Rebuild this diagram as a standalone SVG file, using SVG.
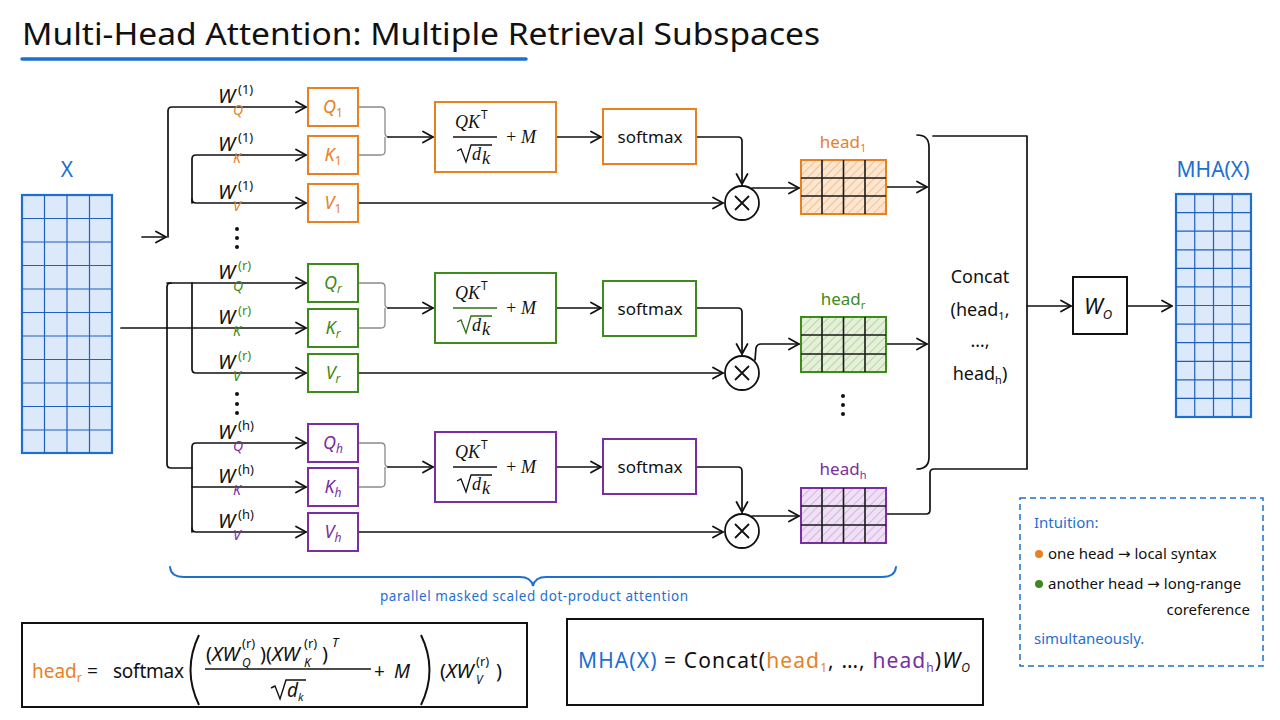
<svg xmlns="http://www.w3.org/2000/svg" width="1280" height="720" viewBox="0 0 1280 720">
<style>
text{font-family:"Noto Sans","Liberation Sans",sans-serif;fill:#111}
.ln{fill:none;stroke:#111;stroke-width:1.7;stroke-linecap:round;stroke-linejoin:round}
.arr{marker-end:url(#ah)}
.gray{fill:none;stroke:#8a8a8a;stroke-width:1.3}
.mat{fill:#dce9fb;stroke:#1f6fd1;stroke-width:2.2}
.grid{stroke:#1f5fc0;stroke-width:1.2;fill:none}
.hg{stroke:#1a1a1a;stroke-width:1.6;fill:none}
.bx{fill:#fff;stroke-width:2}
.o{fill:#e8811f}.g{fill:#3f8a1c}.p{fill:#7a2ea2}.b{fill:#1f6fd1}
.so{stroke:#e8811f}.sg{stroke:#3f8a1c}.sp{stroke:#7a2ea2}
.wl{font-size:20px;font-style:italic}
.sup{font-size:13px}
.sub{font-size:14px;font-style:italic}
.bl{font-size:18px;font-style:italic}
.m{font-family:"Liberation Serif",serif;font-style:italic;font-size:18px}
.sm{font-size:17px}
.f{font-size:19px}
.nf{font-size:20px}
.it{font-style:italic}
.ar{font-family:"DejaVu Sans",sans-serif}
</style>
<defs>
<marker id="ah" markerUnits="userSpaceOnUse" markerWidth="14" markerHeight="14" viewBox="0 0 14 14" refX="12" refY="7" orient="auto">
<path d="M2,1.5 L12,7 L2,12.5" fill="none" stroke="#111" stroke-width="1.8" stroke-linecap="round" stroke-linejoin="round"/>
</marker>
<pattern id="hO" width="6" height="6" patternUnits="userSpaceOnUse" patternTransform="rotate(45)"><rect width="6" height="6" fill="#fde6cf"/><line x1="0" y1="0" x2="0" y2="6" stroke="#eb9b52" stroke-width="1"/></pattern>
<pattern id="hG" width="6" height="6" patternUnits="userSpaceOnUse" patternTransform="rotate(45)"><rect width="6" height="6" fill="#e4f0d8"/><line x1="0" y1="0" x2="0" y2="6" stroke="#8dbd6c" stroke-width="1"/></pattern>
<pattern id="hP" width="6" height="6" patternUnits="userSpaceOnUse" patternTransform="rotate(45)"><rect width="6" height="6" fill="#efe0f6"/><line x1="0" y1="0" x2="0" y2="6" stroke="#b48ad0" stroke-width="1"/></pattern>
</defs>
<rect width="1280" height="720" fill="#fff"/>

<g id="title">
<text x="22" y="45" font-size="31" textLength="798" lengthAdjust="spacingAndGlyphs">Multi-Head Attention: Multiple Retrieval Subspaces</text>
<path d="M22,59 L526,59" stroke="#1f6fd1" stroke-width="3.5" stroke-linecap="round"/>
</g>

<g id="X">
<text x="67" y="177" font-size="21" text-anchor="middle" class="b">X</text>
<rect x="22" y="195" width="90" height="258" class="mat"/>
<path class="grid" d="M44.5,195V453M67,195V453M89.5,195V453M22,218.5H112M22,242H112M22,265.5H112M22,289H112M22,312.5H112M22,336H112M22,359.5H112M22,383H112M22,406.5H112M22,430H112"/>
</g>

<g id="connectors">
<path class="ln arr" d="M142,237 L166,237"/>
<path class="ln arr" d="M168,237 L168,111 Q168,107 172,107 L306,107"/>
<path class="ln arr" d="M192,203 L192,159 Q192,155 196,155 L306,155"/>
<path class="ln arr" d="M192,199 Q192,203 196,203 L306,203"/>
<path class="ln arr" d="M121,328 L306,328"/>
<path class="ln" d="M167,328 L167,287 Q167,283 171,283"/>
<path class="ln arr" d="M167,283 L306,283"/>
<path class="ln arr" d="M192,283 L192,369 Q192,373 196,373 L306,373"/>
<path class="ln" d="M167,328 L167,464 Q167,468 171,468 L192,468"/>
<path class="ln arr" d="M192,532 L192,447 Q192,443 196,443 L306,443"/>
<path class="ln arr" d="M192,487 L306,487"/>
<path class="ln arr" d="M192,528 Q192,532 196,532 L306,532"/>
<path class="gray" d="M358,107 L381,107 Q385,107 385,111 L385,133 Q385,137 389,137 M385,137 L385,151 Q385,155 381,155 L358,155"/>
<path class="gray" d="M358,283 L381,283 Q385,283 385,287 L385,304 Q385,308 389,308 M385,308 L385,324 Q385,328 381,328 L358,328"/>
<path class="gray" d="M358,443 L381,443 Q385,443 385,447 L385,463 Q385,467 389,467 M385,467 L385,483 Q385,487 381,487 L358,487"/>
<path class="ln arr" d="M388,137 L433,137"/>
<path class="ln arr" d="M388,308 L433,308"/>
<path class="ln arr" d="M388,467 L433,467"/>
<path class="ln arr" d="M556,137 L601,137"/>
<path class="ln arr" d="M556,308 L601,308"/>
<path class="ln arr" d="M556,467 L601,467"/>
<path class="ln arr" d="M696,137 L738,137 Q742,137 742,141 L742,184"/>
<path class="ln arr" d="M696,308 L738,308 Q742,308 742,312 L742,354"/>
<path class="ln arr" d="M696,467 L738,467 Q742,467 742,471 L742,512"/>
<path class="ln arr" d="M358,203 L723,203"/>
<path class="ln arr" d="M358,373 L723,373"/>
<path class="ln arr" d="M358,532 L723,532"/>
<path class="ln arr" d="M752,188 L799,188"/>
<path class="ln arr" d="M755,360 L756,348 Q757,344 761,344 L799,344"/>
<path class="ln arr" d="M752,516 L799,516"/>
<path class="ln arr" d="M886,187 L927,187"/>
<path class="ln arr" d="M886,344 L927,344"/>
<path class="ln" d="M886,514 L926,514 Q930,514 930,510 L930,473 Q930,469 934,469 L1027,469 L1027,136 L933,136"/>
<path class="ln" d="M917,135 Q929,135 929,147 L929,457 Q929,469 917,469"/>
<path class="ln arr" d="M1027,306 L1071,306"/>
<path class="ln arr" d="M1127,306 L1172,306"/>
</g>

<g id="mult1"><circle cx="742" cy="203" r="17" fill="#fff" stroke="#111" stroke-width="1.8"/><path d="M735,196 L749,210 M749,196 L735,210" stroke="#111" stroke-width="1.8"/></g>
<g id="multr"><circle cx="742" cy="373" r="17" fill="#fff" stroke="#111" stroke-width="1.8"/><path d="M735,366 L749,380 M749,366 L735,380" stroke="#111" stroke-width="1.8"/></g>
<g id="multh"><circle cx="742" cy="531" r="17" fill="#fff" stroke="#111" stroke-width="1.8"/><path d="M735,524 L749,538 M749,524 L735,538" stroke="#111" stroke-width="1.8"/></g>

<g id="wlabels">
<text x="218" y="103" class="wl">W</text><text x="238" y="94" class="sup" fill="#8a4a1a">(1)</text><text x="233" y="115" class="sub o">Q</text>
<text x="218" y="151" class="wl">W</text><text x="238" y="142" class="sup" fill="#8a4a1a">(1)</text><text x="233" y="163" class="sub o">K</text>
<text x="218" y="199" class="wl">W</text><text x="238" y="190" class="sup" fill="#8a4a1a">(1)</text><text x="233" y="211" class="sub o">V</text>
<text x="218" y="279" class="wl">W</text><text x="238" y="270" class="sup g">(r)</text><text x="233" y="291" class="sub g">Q</text>
<text x="218" y="324" class="wl">W</text><text x="238" y="315" class="sup g">(r)</text><text x="233" y="336" class="sub g">K</text>
<text x="218" y="369" class="wl">W</text><text x="238" y="360" class="sup g">(r)</text><text x="233" y="381" class="sub g">V</text>
<text x="218" y="439" class="wl">W</text><text x="238" y="430" class="sup" fill="#5a2a78">(h)</text><text x="233" y="451" class="sub p">Q</text>
<text x="218" y="483" class="wl">W</text><text x="238" y="474" class="sup" fill="#5a2a78">(h)</text><text x="233" y="495" class="sub p">K</text>
<text x="218" y="528" class="wl">W</text><text x="238" y="519" class="sup" fill="#5a2a78">(h)</text><text x="233" y="540" class="sub p">V</text>
<g fill="#111"><circle cx="237" cy="229" r="2"/><circle cx="237" cy="238" r="2"/><circle cx="237" cy="247" r="2"/>
<circle cx="237" cy="394" r="2"/><circle cx="237" cy="404" r="2"/><circle cx="237" cy="413" r="2"/>
<circle cx="843" cy="396" r="2"/><circle cx="843" cy="405" r="2"/><circle cx="843" cy="414" r="2"/></g>
</g>

<g id="Q1"><rect x="308" y="88" width="50" height="38" class="bx so"/><text x="333" y="113" text-anchor="middle" class="bl o">Q<tspan dy="4" font-size="12" font-style="normal">1</tspan></text></g>
<g id="K1"><rect x="308" y="136" width="50" height="38" class="bx so"/><text x="333" y="161" text-anchor="middle" class="bl o">K<tspan dy="4" font-size="12" font-style="normal">1</tspan></text></g>
<g id="V1"><rect x="308" y="184" width="50" height="38" class="bx so"/><text x="333" y="209" text-anchor="middle" class="bl o">V<tspan dy="4" font-size="12" font-style="normal">1</tspan></text></g>
<g id="Qr"><rect x="308" y="264" width="50" height="38" class="bx sg"/><text x="333" y="289" text-anchor="middle" class="bl g">Q<tspan dy="4" font-size="12">r</tspan></text></g>
<g id="Kr"><rect x="308" y="309" width="50" height="38" class="bx sg"/><text x="333" y="334" text-anchor="middle" class="bl g">K<tspan dy="4" font-size="12">r</tspan></text></g>
<g id="Vr"><rect x="308" y="354" width="50" height="38" class="bx sg"/><text x="333" y="379" text-anchor="middle" class="bl g">V<tspan dy="4" font-size="12">r</tspan></text></g>
<g id="Qh"><rect x="308" y="424" width="50" height="38" class="bx sp"/><text x="333" y="449" text-anchor="middle" class="bl p">Q<tspan dy="4" font-size="12">h</tspan></text></g>
<g id="Kh"><rect x="308" y="468" width="50" height="38" class="bx sp"/><text x="333" y="493" text-anchor="middle" class="bl p">K<tspan dy="4" font-size="12">h</tspan></text></g>
<g id="Vh"><rect x="308" y="513" width="50" height="38" class="bx sp"/><text x="333" y="538" text-anchor="middle" class="bl p">V<tspan dy="4" font-size="12">h</tspan></text></g>

<g id="QK1">
<rect x="435" y="102" width="121" height="70" class="bx so"/>
<text x="455" y="128" class="m">QK</text><text x="481" y="119" font-size="12" font-family="Liberation Serif,serif">T</text>
<path d="M453,137 L497,137" stroke="#111" stroke-width="1.3"/>
<path d="M457,151 L461,149 L466,162 L471,145 L492,145" fill="none" stroke="#111" stroke-width="1.3"/>
<text x="472" y="160" class="m">d</text><text x="482" y="164" class="m" font-size="11">k</text>
<text x="505" y="143" class="m" font-style="normal">+</text><text x="521" y="143" class="m">M</text>
</g>
<g id="QKr">
<rect x="435" y="273" width="121" height="70" class="bx sg"/>
<text x="455" y="299" class="m" fill="#2f6e14">QK</text><text x="481" y="290" font-size="12" font-family="Liberation Serif,serif" fill="#2f6e14">T</text>
<path d="M453,308 L497,308" stroke="#2f6e14" stroke-width="1.3"/>
<path d="M457,322 L461,320 L466,333 L471,316 L492,316" fill="none" stroke="#2f6e14" stroke-width="1.3"/>
<text x="472" y="331" class="m" fill="#2f6e14">d</text><text x="482" y="335" class="m" font-size="11" fill="#2f6e14">k</text>
<text x="505" y="314" class="m" font-style="normal" fill="#2f6e14">+</text><text x="521" y="314" class="m" fill="#2f6e14">M</text>
</g>
<g id="QKh">
<rect x="435" y="432" width="121" height="70" class="bx sp"/>
<text x="455" y="458" class="m">QK</text><text x="481" y="449" font-size="12" font-family="Liberation Serif,serif">T</text>
<path d="M453,467 L497,467" stroke="#111" stroke-width="1.3"/>
<path d="M457,481 L461,479 L466,492 L471,475 L492,475" fill="none" stroke="#111" stroke-width="1.3"/>
<text x="472" y="490" class="m">d</text><text x="482" y="494" class="m" font-size="11">k</text>
<text x="505" y="473" class="m" font-style="normal">+</text><text x="521" y="473" class="m">M</text>
</g>

<g id="sm1"><rect x="603" y="109" width="93" height="55" class="bx so"/><text x="650" y="143" text-anchor="middle" class="sm">softmax</text></g>
<g id="smr"><rect x="603" y="281" width="93" height="55" class="bx sg"/><text x="650" y="315" text-anchor="middle" class="sm" fill="#2f6e14">softmax</text></g>
<g id="smh"><rect x="603" y="439" width="93" height="55" class="bx sp"/><text x="650" y="473" text-anchor="middle" class="sm">softmax</text></g>

<g id="head1">
<text x="843" y="148" text-anchor="middle" font-size="17" class="o">head<tspan dy="4" font-size="11">1</tspan></text>
<rect x="801" y="160" width="85" height="54" fill="url(#hO)" stroke="#e8811f" stroke-width="2"/>
<path class="hg" d="M822,160V214M843.5,160V214M865,160V214M801,178H886M801,196H886"/>
</g>
<g id="headr">
<text x="843" y="305" text-anchor="middle" font-size="17" class="g">head<tspan dy="4" font-size="11">r</tspan></text>
<rect x="801" y="317" width="85" height="55" fill="url(#hG)" stroke="#3f8a1c" stroke-width="2"/>
<path class="hg" d="M822,317V372M843.5,317V372M865,317V372M801,335H886M801,354H886"/>
</g>
<g id="headh">
<text x="843" y="475" text-anchor="middle" font-size="17" class="p">head<tspan dy="4" font-size="11">h</tspan></text>
<rect x="801" y="488" width="85" height="55" fill="url(#hP)" stroke="#7a2ea2" stroke-width="2"/>
<path class="hg" d="M822,488V543M843.5,488V543M865,488V543M801,506H886M801,525H886"/>
</g>

<g id="concat">
<text x="980" y="283" text-anchor="middle" font-size="18">Concat</text>
<text x="980" y="316" text-anchor="middle" font-size="18">(head<tspan dy="4" font-size="11">1</tspan><tspan dy="-4">,</tspan></text>
<text x="980" y="347" text-anchor="middle" font-size="18">…,</text>
<text x="980" y="380" text-anchor="middle" font-size="18">head<tspan dy="4" font-size="11">h</tspan><tspan dy="-4">)</tspan></text>
</g>

<g id="WO"><rect x="1073" y="277" width="54" height="57" class="bx" stroke="#111"/><text x="1098" y="314" text-anchor="middle" font-size="22" class="it">W<tspan dy="5" font-size="13">O</tspan></text></g>

<g id="MHA">
<text x="1213" y="177" text-anchor="middle" font-size="21" class="b">MHA(X)</text>
<rect x="1176" y="194" width="75" height="223" class="mat"/>
<path class="grid" d="M1194.75,194V417M1213.5,194V417M1232.25,194V417M1176,212.6H1251M1176,231.2H1251M1176,249.8H1251M1176,268.3H1251M1176,286.9H1251M1176,305.5H1251M1176,324.1H1251M1176,342.7H1251M1176,361.3H1251M1176,379.8H1251M1176,398.4H1251"/>
</g>

<g id="brace">
<path d="M170,567 Q171,577 184,577 L520,577 Q531,577 533,586 Q535,577 546,577 L882,577 Q895,577 896,567" fill="none" stroke="#1f6fd1" stroke-width="2" stroke-linecap="round"/>
<text x="380" y="601" font-size="13.5" class="b" textLength="308">parallel masked scaled dot-product attention</text>
</g>

<g id="intuition">
<rect x="1020" y="498" width="243" height="168" fill="#fff" stroke="#1f6fd1" stroke-width="1.5" stroke-dasharray="6,4"/>
<text x="1034" y="528" font-size="15" class="b">Intuition:</text>
<circle cx="1039" cy="554" r="4" fill="#e8811f"/>
<text x="1048" y="559" font-size="15">one head <tspan class="ar">→</tspan> local syntax</text>
<circle cx="1039" cy="584" r="4" fill="#3f8a1c"/>
<text x="1048" y="589" font-size="15">another head <tspan class="ar">→</tspan> long-range</text>
<text x="1250" y="615" font-size="15" text-anchor="end">coreference</text>
<text x="1034" y="644" font-size="15" class="b">simultaneously.</text>
</g>

<g id="formula1">
<rect x="22" y="623" width="505" height="84" fill="#fff" stroke="#111" stroke-width="2"/>
<text x="32" y="678" class="f o">head<tspan dy="4" font-size="12">r</tspan></text>
<text x="87" y="678" class="f">=</text>
<text x="113" y="678" class="f" textLength="71">softmax</text>
<path d="M199,635 Q182,670 199,705" fill="none" stroke="#111" stroke-width="2"/>
<text x="206" y="661" class="nf">(<tspan class="it">XW</tspan></text>
<text x="242" y="648" font-size="13">(r)</text><text x="242" y="667" font-size="12" class="it">Q</text>
<text x="260" y="661" class="nf">)(<tspan class="it">XW</tspan></text>
<text x="304" y="648" font-size="13">(r)</text><text x="304" y="667" font-size="12" class="it">K</text>
<text x="322" y="661" class="nf">)</text><text x="332" y="647" font-size="13" class="it">T</text>
<path d="M205,669 L371,669" stroke="#111" stroke-width="1.5"/>
<path d="M271,688 L275,686 L280,699 L286,680 L306,680" fill="none" stroke="#111" stroke-width="1.4"/>
<text x="287" y="697" class="f it">d</text><text x="298" y="701" font-size="11" class="it">k</text>
<text x="374" y="678" class="f">+</text><text x="394" y="678" class="f it">M</text>
<path d="M421,635 Q438,670 421,705" fill="none" stroke="#111" stroke-width="2"/>
<text x="440" y="678" class="nf">(<tspan class="it">XW</tspan></text>
<text x="476" y="666" font-size="13">(r)</text><text x="476" y="684" font-size="12" class="it">V</text>
<text x="496" y="678" class="nf">)</text>
</g>

<g id="formula2">
<rect x="567" y="619" width="416" height="86" fill="#fff" stroke="#111" stroke-width="2"/>
<text x="578" y="668" font-size="21" textLength="392"><tspan class="b">MHA(X)</tspan> = Concat(<tspan class="o">head</tspan><tspan class="o" dy="4" font-size="12">1</tspan><tspan dy="-4">, …, </tspan><tspan class="p">head</tspan><tspan class="p" dy="4" font-size="12">h</tspan><tspan dy="-4">)</tspan><tspan class="it">W</tspan><tspan dy="4" font-size="12" class="it">O</tspan></text>
</g>
</svg>
